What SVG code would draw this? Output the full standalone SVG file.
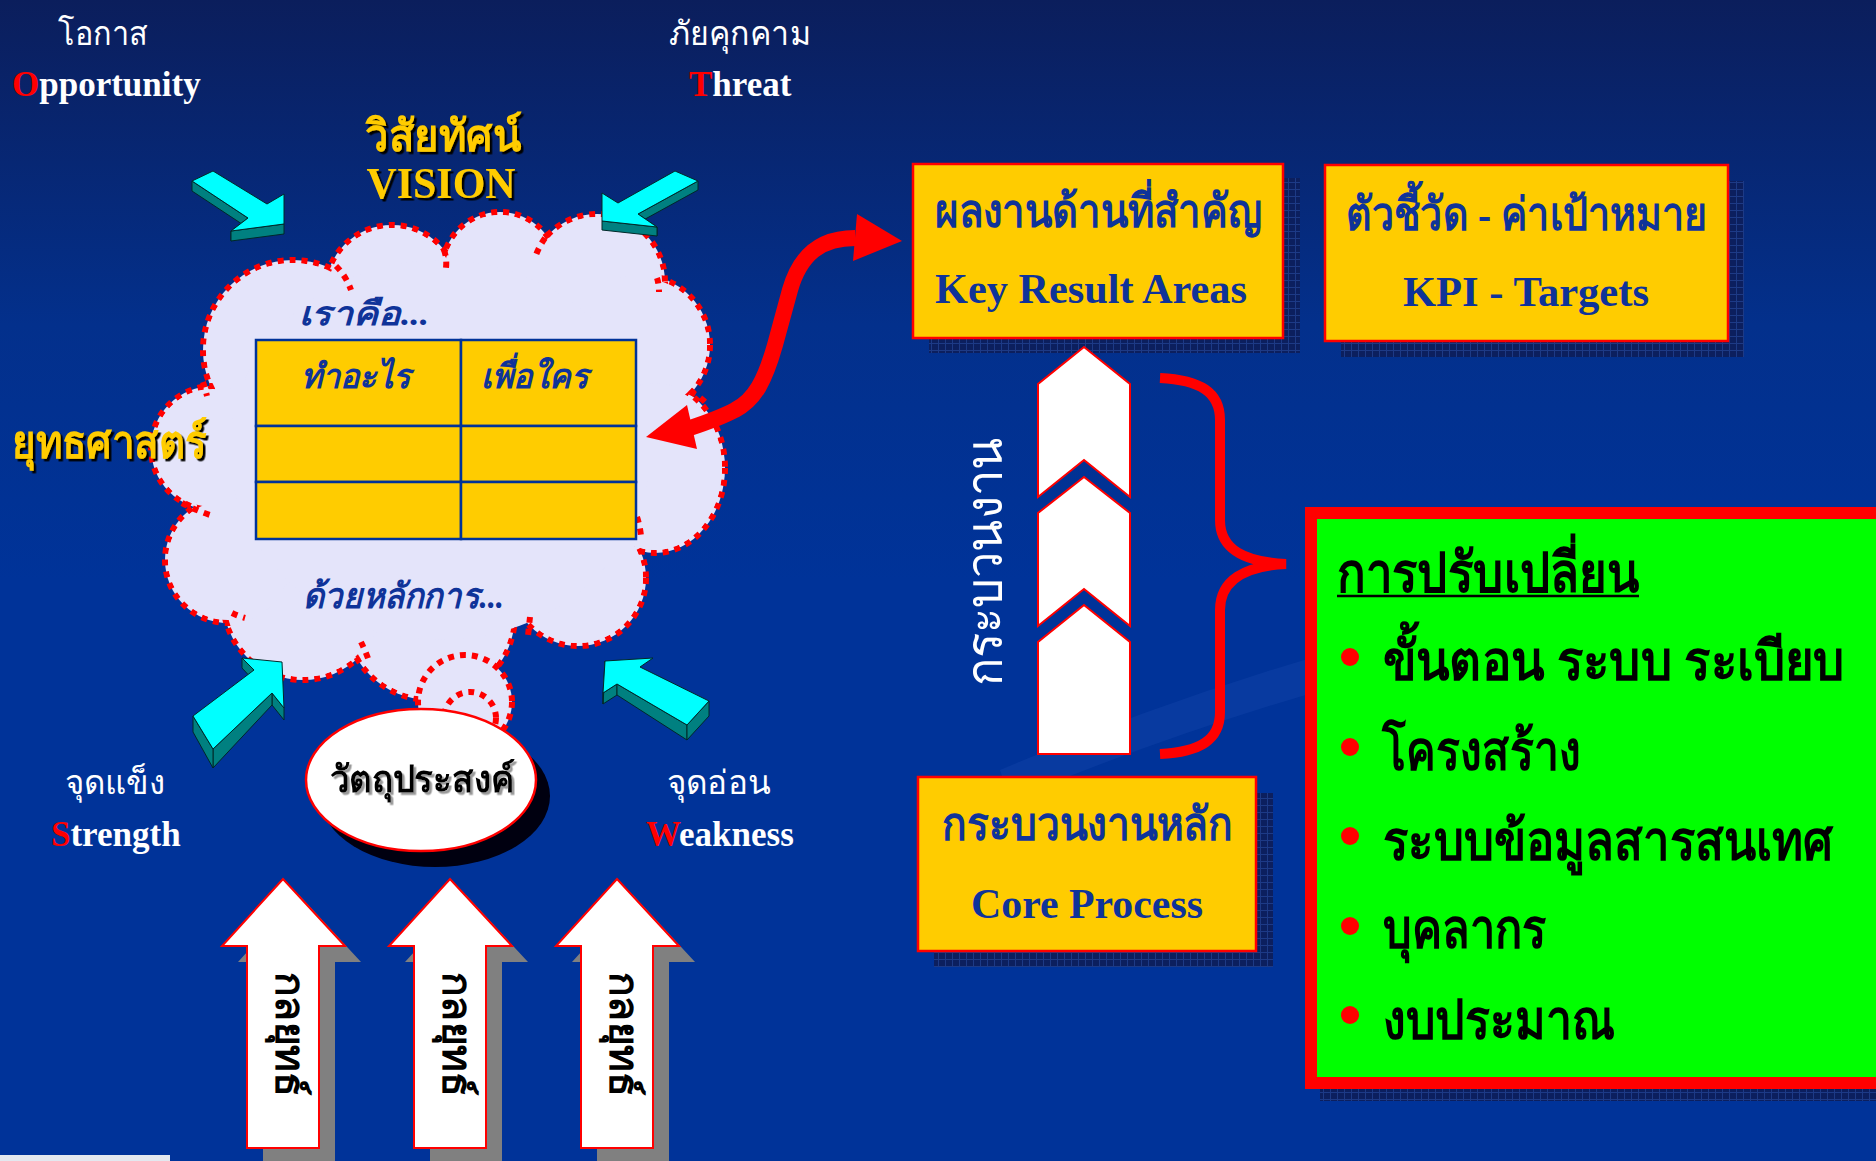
<svg xmlns="http://www.w3.org/2000/svg" width="1876" height="1161" viewBox="0 0 1876 1161">
<defs>
<linearGradient id="bg" x1="0" y1="0" x2="0" y2="1">
<stop offset="0" stop-color="#0b1e5c"/>
<stop offset="0.28" stop-color="#03308c"/>
<stop offset="0.5" stop-color="#003399"/>
<stop offset="1" stop-color="#003399"/>
</linearGradient>
<pattern id="grid" width="7" height="7" patternUnits="userSpaceOnUse">
<rect width="7" height="7" fill="#0c1f5e"/>
<path d="M0 0.5H7M0.5 0V7" stroke="#1d3a86" stroke-width="1"/>
</pattern>
<filter id="sh" x="-10%" y="-10%" width="120%" height="130%">
<feDropShadow dx="2.5" dy="2.5" stdDeviation="0" flood-color="#000"/>
</filter>
<filter id="shg" x="-10%" y="-10%" width="120%" height="130%">
<feDropShadow dx="2.5" dy="2.5" stdDeviation="0" flood-color="#9a9a9a"/>
</filter>
<mask id="cloudMask" maskUnits="userSpaceOnUse" x="0" y="0" width="1876" height="1161">
<rect width="1876" height="1161" fill="#fff"/>
<g fill="#000">
<circle cx="293" cy="350" r="87"/>
<circle cx="392" cy="292" r="64"/>
<circle cx="500" cy="270" r="55"/>
<circle cx="597" cy="282" r="65"/>
<circle cx="640" cy="345" r="67"/>
<ellipse cx="655" cy="468" rx="67" ry="82"/>
<circle cx="578" cy="578" r="65"/>
<circle cx="430" cy="615" r="82"/>
<circle cx="303" cy="600" r="77"/>
<circle cx="228" cy="560" r="60"/>
<circle cx="213" cy="448" r="59"/>
<ellipse cx="440" cy="450" rx="210" ry="190"/>
</g>
</mask>
<style>
.en{font-family:"Liberation Serif",serif;font-weight:bold}
.th{font-family:"Liberation Serif","Noto Sans","DejaVu Sans",serif}
.b{font-weight:bold}
.it{font-style:italic}
.w{fill:#ffffff}
.y{fill:#ffcc00}
.blue{fill:#0f3399}
.k{fill:#000000}
.cyan{fill:#00ffff;stroke:#002828;stroke-width:1}
.teal{fill:#008080;stroke:#002828;stroke-width:1;stroke-linejoin:round}
.chev{fill:#ffffff;stroke:#ff0000;stroke-width:2}
.box{fill:#ffcc00;stroke:#ff0000;stroke-width:2.5}
.shadow{fill:url(#grid)}
.cloudfill{fill:#e4e4fa}
.dots{fill:none;stroke:#ff0000;stroke-width:6;stroke-dasharray:6 6}
.cell{fill:#ffcc00;stroke:#003399;stroke-width:2.5}
</style>
</defs>

<rect id="background" x="0" y="0" width="1876" height="1161" fill="url(#bg)"/>
<g id="background-swoosh" opacity="0.18">
<path d="M1000 770 Q1400 600 1876 540 L1876 580 Q1420 630 1010 800 Z" fill="#2a5cc0"/>
</g>
<rect id="corner-strip" x="0" y="1155" width="170" height="6" fill="#e3e8ef"/>

<!-- Cloud: strategy -->
<g id="cloud">
<g class="cloudfill">
<circle cx="293" cy="350" r="90"/>
<circle cx="392" cy="292" r="67"/>
<circle cx="500" cy="270" r="58"/>
<circle cx="597" cy="282" r="68"/>
<circle cx="640" cy="345" r="70"/>
<ellipse cx="655" cy="468" rx="70" ry="85"/>
<circle cx="578" cy="578" r="68"/>
<circle cx="430" cy="615" r="85"/>
<circle cx="303" cy="600" r="80"/>
<circle cx="228" cy="560" r="63"/>
<circle cx="213" cy="448" r="62"/>
<ellipse cx="440" cy="450" rx="210" ry="190"/>
</g>
<g class="dots" mask="url(#cloudMask)">
<circle cx="293" cy="350" r="90"/>
<circle cx="392" cy="292" r="67"/>
<circle cx="500" cy="270" r="58"/>
<circle cx="597" cy="282" r="68"/>
<circle cx="640" cy="345" r="70"/>
<ellipse cx="655" cy="468" rx="70" ry="85"/>
<circle cx="578" cy="578" r="68"/>
<circle cx="430" cy="615" r="85"/>
<circle cx="303" cy="600" r="80"/>
<circle cx="228" cy="560" r="63"/>
<circle cx="213" cy="448" r="62"/>
</g>
<g class="dots">
<path d="M336 266 Q346 276 351 290"/>
<path d="M444 250 Q447 258 446 268"/>
<path d="M545 238 Q538 248 535 258"/>
<path d="M657 278 Q659 284 659 292"/>
<path d="M690 392 Q698 395 705 402"/>
<path d="M637 517 Q640 526 641 536"/>
<path d="M530 617 Q529 626 528 636"/>
<path d="M361 642 Q366 652 370 664"/>
<path d="M232 613 Q238 616 245 618"/>
<path d="M182 503 Q195 510 210 515"/>
<path d="M203 382 Q205 388 207 396"/>
</g>
<circle cx="465" cy="702" r="47" class="cloudfill"/>
<circle cx="465" cy="702" r="47" class="dots"/>
<circle cx="470" cy="718" r="26" class="dots"/>
</g>

<g id="table">
<rect x="256" y="340" width="205" height="86" class="cell"/>
<rect x="461" y="340" width="175" height="86" class="cell"/>
<rect x="256" y="426" width="205" height="56" class="cell"/>
<rect x="461" y="426" width="175" height="56" class="cell"/>
<rect x="256" y="482" width="205" height="57" class="cell"/>
<rect x="461" y="482" width="175" height="57" class="cell"/>
<text x="301" y="388" class="th it b blue" font-size="34" textLength="109" lengthAdjust="spacingAndGlyphs">ทำอะไร</text>
<text x="481" y="388" class="th it b blue" font-size="34" textLength="107" lengthAdjust="spacingAndGlyphs">เพื่อใคร</text>
</g>
<text id="label-we-are" x="299" y="325" class="th it b blue" font-size="33" textLength="130" lengthAdjust="spacingAndGlyphs">เราคือ...</text>
<text id="label-principles" x="303" y="608" class="th it b blue" font-size="35" textLength="201" lengthAdjust="spacingAndGlyphs">ด้วยหลักการ...</text>

<g id="objective">
<ellipse cx="435" cy="796" rx="115" ry="71" fill="#000010"/>
<ellipse cx="421" cy="780" rx="115" ry="71" fill="#ffffff" stroke="#ff0000" stroke-width="2.5"/>
<text x="422" y="792" text-anchor="middle" class="th b k" font-size="37" textLength="185" lengthAdjust="spacingAndGlyphs" filter="url(#shg)">วัตถุประสงค์</text>
</g>

<g id="vision-title" filter="url(#sh)">
<text x="443" y="151" text-anchor="middle" class="th b y" font-size="44" textLength="156" lengthAdjust="spacingAndGlyphs">วิสัยทัศน์</text>
<text x="441" y="198" text-anchor="middle" class="en y" font-size="44" textLength="149" lengthAdjust="spacingAndGlyphs">VISION</text>
</g>
<g id="strategy-title" filter="url(#sh)">
<text x="12" y="458" class="th b y" font-size="46" textLength="195" lengthAdjust="spacingAndGlyphs">ยุทธศาสตร์</text>
</g>

<g id="opportunity">
<text x="103" y="45" text-anchor="middle" class="th w" font-size="33" textLength="90" lengthAdjust="spacingAndGlyphs">โอกาส</text>
<text x="12" y="96" class="en w" font-size="35"><tspan fill="#ff0000">O</tspan>pportunity</text>
</g>
<g id="threat">
<text x="740" y="45" text-anchor="middle" class="th w" font-size="33" textLength="142" lengthAdjust="spacingAndGlyphs">ภัยคุกคาม</text>
<text x="689" y="96" class="en w" font-size="35"><tspan fill="#ff0000">T</tspan>hreat</text>
</g>
<g id="strength">
<text x="115" y="794" text-anchor="middle" class="th w" font-size="33" textLength="100" lengthAdjust="spacingAndGlyphs">จุดแข็ง</text>
<text x="51" y="846" class="en w" font-size="35"><tspan fill="#ff0000">S</tspan>trength</text>
</g>
<g id="weakness">
<text x="719" y="794" text-anchor="middle" class="th w" font-size="33" textLength="104" lengthAdjust="spacingAndGlyphs">จุดอ่อน</text>
<text x="646" y="846" class="en w" font-size="35"><tspan fill="#ff0000">W</tspan>eakness</text>
</g>

<!-- SWOT 3D arrows -->
<g id="arrow-opportunity">
<polygon class="teal" points="192,181 248,218 248,228 192,191"/>
<polygon class="teal" points="248,218 231,231 231,241 248,228"/>
<polygon class="teal" points="231,231 284,224 284,234 231,241"/>
<polygon class="cyan" points="213,171 267,204 284,194 284,224 231,231 248,218 192,181"/>
</g>
<g id="arrow-threat">
<polygon class="teal" points="698,181 638,214 638,223 698,190"/>
<polygon class="teal" points="638,214 657,227 657,236 638,223"/>
<polygon class="teal" points="657,227 602,221 602,230 657,236"/>
<polygon class="cyan" points="675,171 698,181 638,214 657,227 602,221 602,193 618,203"/>
</g>
<g id="arrow-strength">
<polygon class="teal" points="284,708 272,693 272,705 284,720"/>
<polygon class="teal" points="272,693 213,749 213,768 272,705"/>
<polygon class="teal" points="213,749 193,716 193,732 213,768"/>
<polygon class="teal" points="242,658 254,670 254,681 242,668"/>
<polygon class="cyan" points="282,662 284,708 272,693 213,749 193,716 254,670 242,658"/>
</g>
<g id="arrow-weakness">
<polygon class="teal" points="603,693 617,684 617,695 603,704"/>
<polygon class="teal" points="617,684 687,725 687,740 617,695"/>
<polygon class="teal" points="687,725 709,701 709,716 687,740"/>
<polygon class="teal" points="605,661 603,693 603,704 605,671"/>
<polygon class="cyan" points="605,661 653,658 640,667 709,701 687,725 617,684 603,693"/>
</g>

<!-- strategy up arrows -->
<g id="strategy-arrow-1">
<polygon fill="#808080" points="299,895 361,962 335,962 335,1170 263,1170 263,962 238,962"/>
<polygon fill="#ffffff" stroke="#ff0000" stroke-width="2" points="283,879 345,946 319,946 319,1148 247,1148 247,946 222,946"/>
<text transform="translate(276,1034) rotate(90)" text-anchor="middle" class="th b k" font-size="40" textLength="124" lengthAdjust="spacingAndGlyphs">กลยุทธ์</text>
</g>
<g id="strategy-arrow-2">
<polygon fill="#808080" points="466,895 528,962 502,962 502,1170 430,1170 430,962 405,962"/>
<polygon fill="#ffffff" stroke="#ff0000" stroke-width="2" points="450,879 512,946 486,946 486,1148 414,1148 414,946 389,946"/>
<text transform="translate(443,1034) rotate(90)" text-anchor="middle" class="th b k" font-size="40" textLength="124" lengthAdjust="spacingAndGlyphs">กลยุทธ์</text>
</g>
<g id="strategy-arrow-3">
<polygon fill="#808080" points="633,895 695,962 669,962 669,1170 597,1170 597,962 572,962"/>
<polygon fill="#ffffff" stroke="#ff0000" stroke-width="2" points="617,879 679,946 653,946 653,1148 581,1148 581,946 556,946"/>
<text transform="translate(610,1034) rotate(90)" text-anchor="middle" class="th b k" font-size="40" textLength="124" lengthAdjust="spacingAndGlyphs">กลยุทธ์</text>
</g>

<!-- right side boxes -->
<g id="key-result-areas">
<rect x="929" y="178" width="371" height="175" class="shadow"/>
<rect x="913" y="164" width="370" height="174" class="box"/>
<text x="935" y="227" class="th b blue" font-size="46" textLength="327" lengthAdjust="spacingAndGlyphs">ผลงานด้านที่สำคัญ</text>
<text x="935" y="303" class="en blue" font-size="42" textLength="312" lengthAdjust="spacingAndGlyphs">Key Result Areas</text>
</g>
<g id="kpi-targets">
<rect x="1341" y="181" width="403" height="176" class="shadow"/>
<rect x="1325" y="165" width="403" height="176" class="box"/>
<text x="1346" y="230" class="th b blue" font-size="46" textLength="361" lengthAdjust="spacingAndGlyphs">ตัวชี้วัด - ค่าเป้าหมาย</text>
<text x="1403" y="306" class="en blue" font-size="42" textLength="246" lengthAdjust="spacingAndGlyphs">KPI - Targets</text>
</g>
<g id="core-process">
<rect x="934" y="793" width="339" height="174" class="shadow"/>
<rect x="918" y="777" width="338" height="174" class="box"/>
<text x="942" y="840" class="th b blue" font-size="46" textLength="291" lengthAdjust="spacingAndGlyphs">กระบวนงานหลัก</text>
<text x="971" y="918" class="en blue" font-size="42" textLength="232" lengthAdjust="spacingAndGlyphs">Core Process</text>
</g>

<g id="process-chevrons">
<polygon class="chev" points="1084,347 1130,384 1130,497 1084,460 1038,497 1038,384"/>
<polygon class="chev" points="1084,477 1130,513 1130,626 1084,589 1038,626 1038,513"/>
<polygon class="chev" points="1084,605 1130,642 1130,754 1038,754 1038,642"/>
<text transform="translate(1002,562) rotate(-90)" text-anchor="middle" class="th w" font-size="52" textLength="249" lengthAdjust="spacingAndGlyphs">กระบวนงาน</text>
</g>

<g id="transformation">
<rect x="1320" y="1089" width="556" height="12" class="shadow"/>
<rect x="1311" y="513" width="571" height="570" fill="#00ff00" stroke="#ff0000" stroke-width="12"/>
<text x="1337" y="592" class="th b k" font-size="56" textLength="302" lengthAdjust="spacingAndGlyphs">การปรับเปลี่ยน</text>
<line x1="1337" y1="596" x2="1639" y2="596" stroke="#000" stroke-width="2.5"/>
<g fill="#ff0000">
<circle cx="1350" cy="657" r="9"/>
<circle cx="1350" cy="747" r="9"/>
<circle cx="1350" cy="836" r="9"/>
<circle cx="1350" cy="926" r="9"/>
<circle cx="1350" cy="1015" r="9"/>
</g>
<text transform="translate(1383,680) scale(0.82,1)" x="0" y="0" class="th b k" font-size="55" textLength="563" lengthAdjust="spacingAndGlyphs">ขั้นตอน ระบบ ระเบียบ</text>
<text x="1382" y="770" class="th b k" font-size="55" textLength="199" lengthAdjust="spacingAndGlyphs">โครงสร้าง</text>
<text transform="translate(1383,860) scale(0.82,1)" x="0" y="0" class="th b k" font-size="55" textLength="549" lengthAdjust="spacingAndGlyphs">ระบบข้อมูลสารสนเทศ</text>
<text x="1383" y="948" class="th b k" font-size="55" textLength="164" lengthAdjust="spacingAndGlyphs">บุคลากร</text>
<text x="1383" y="1039" class="th b k" font-size="55" textLength="232" lengthAdjust="spacingAndGlyphs">งบประมาณ</text>
</g>

<g id="connectors">
<path id="brace" d="M1160 378 C1200 380 1220 392 1220 420 L1220 520 C1220 550 1245 562 1286 564 C1245 566 1220 580 1220 610 L1220 712 C1220 740 1200 752 1160 754" fill="none" stroke="#ff0000" stroke-width="10"/>
<g id="link-kra-strategy">
<path d="M855 238 C820 238 800 255 790 290 L775 345 C765 380 755 400 735 410 C720 418 705 423 690 428" fill="none" stroke="#ff0000" stroke-width="16"/>
<polygon points="902,241 857,214 853,261" fill="#ff0000"/>
<polygon points="646,437 687,405 697,449" fill="#ff0000"/>
</g>
</g>
</svg>
